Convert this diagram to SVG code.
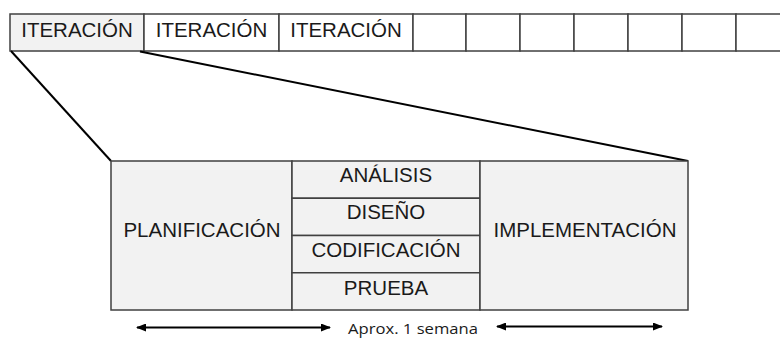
<svg xmlns="http://www.w3.org/2000/svg" width="780" height="338" viewBox="0 0 780 338">
  <defs>
    <style>
      .cell { fill: #ffffff; stroke: #404040; stroke-width: 1.5; }
      .shade { fill: #f2f2f2; }
      .box { fill: #f2f2f2; stroke: #404040; stroke-width: 1.5; }
      .lbl { font-family: "Liberation Sans", Arial, sans-serif; font-size: 20.5px; fill: #1a1a1a; text-anchor: middle; }
      .note { font-family: "Open Sans", "Liberation Sans", sans-serif; font-size: 15px; fill: #1a1a1a; }
      .conn { stroke: #000000; stroke-width: 2; fill: none; }
      .arr { stroke: #000000; stroke-width: 2; fill: none; marker-start: url(#ah); marker-end: url(#ah); }
    </style>
    <marker id="ah" viewBox="0 0 10 8" refX="9" refY="4" markerWidth="10" markerHeight="8" markerUnits="userSpaceOnUse" orient="auto-start-reverse">
      <path d="M0,0 L10,4 L0,8 Z" fill="#000000"/>
    </marker>
  </defs>

  <g id="iteration-bar">
    <rect class="cell shade" x="10" y="14" width="134" height="37"/>
    <rect class="cell" x="144" y="14" width="135" height="37"/>
    <rect class="cell" x="279" y="14" width="134" height="37"/>
    <rect class="cell" x="413" y="14" width="53" height="37"/>
    <rect class="cell" x="466" y="14" width="54" height="37"/>
    <rect class="cell" x="520" y="14" width="54" height="37"/>
    <rect class="cell" x="574" y="14" width="54" height="37"/>
    <rect class="cell" x="628" y="14" width="54" height="37"/>
    <rect class="cell" x="682" y="14" width="54" height="37"/>
    <rect class="cell" x="736" y="14" width="60" height="37"/>
    <text class="lbl" x="77" y="36.5">ITERACIÓN</text>
    <text class="lbl" x="211.5" y="36.5">ITERACIÓN</text>
    <text class="lbl" x="346" y="36.5">ITERACIÓN</text>
  </g>

  <g id="connectors">
    <line class="conn" x1="11" y1="51" x2="111" y2="161"/>
    <line class="conn" x1="140" y1="51.5" x2="688" y2="161"/>
    <line class="arr" x1="137" y1="327.5" x2="330" y2="327.5"/>
    <line class="arr" x1="497" y1="326.5" x2="662" y2="326.5"/>
  </g>

  <g id="planificacion">
    <rect class="box" x="111" y="161" width="181" height="149"/>
    <text class="lbl" x="202" y="237">PLANIFICACIÓN</text>
  </g>

  <g id="analisis">
    <rect class="box" x="292" y="161" width="188" height="37.25"/>
    <text class="lbl" x="386" y="181.7">ANÁLISIS</text>
  </g>
  <g id="diseno">
    <rect class="box" x="292" y="198.25" width="188" height="37.25"/>
    <text class="lbl" x="386" y="218.5">DISEÑO</text>
  </g>
  <g id="codificacion">
    <rect class="box" x="292" y="235.5" width="188" height="37.25"/>
    <text class="lbl" x="386" y="256.7">CODIFICACIÓN</text>
  </g>
  <g id="prueba">
    <rect class="box" x="292" y="272.75" width="188" height="37.25"/>
    <text class="lbl" x="386" y="295">PRUEBA</text>
  </g>

  <g id="implementacion">
    <rect class="box" x="480" y="161" width="208" height="149"/>
    <text class="lbl" x="585" y="237.3">IMPLEMENTACIÓN</text>
  </g>

  <g id="duration">
    <text class="note" x="348" y="333.5" textLength="130" lengthAdjust="spacingAndGlyphs">Aprox. 1 semana</text>
  </g>
</svg>
